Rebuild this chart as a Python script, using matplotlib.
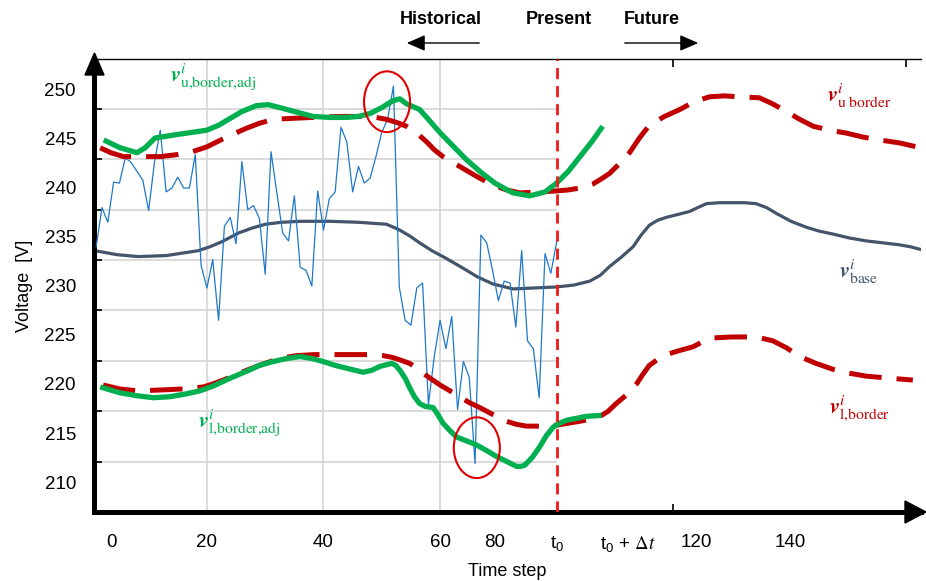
import matplotlib
matplotlib.use("Agg")
import matplotlib.pyplot as plt
from matplotlib.patches import Ellipse, Polygon, FancyArrowPatch

plt.rcParams['font.family'] = ['Liberation Sans', 'DejaVu Sans']
plt.rcParams['mathtext.fontset'] = 'stix'

# measured voltage (historical window)
t_meas = list(range(1, 81))
v_meas = [234.0, 238.0, 236.5, 240.6, 240.5, 243.1, 242.6, 241.7, 240.8, 237.7,
          242.6, 245.9, 239.6, 240.0, 241.1, 240.0, 240.0, 243.4, 232.1, 229.8,
          232.7, 226.5, 236.1, 237.0, 234.3, 242.7, 237.8, 238.2, 236.9, 231.2,
          243.7, 239.5, 235.4, 234.6, 239.2, 231.9, 231.6, 230.0, 239.7, 235.7,
          238.9, 239.6, 246.2, 244.7, 239.6, 242.2, 240.5, 241.0, 243.2, 245.7,
          247.0, 250.4, 229.9, 226.5, 226.0, 229.8, 230.3, 217.9, 222.8, 226.5,
          223.6, 226.9, 217.4, 222.3, 220.7, 211.9, 235.2, 234.4, 231.6, 228.5,
          230.5, 230.3, 225.8, 233.6, 224.4, 223.6, 218.6, 233.3, 231.3, 234.5]

# base voltage
t_base = [0.8, 4.5, 8.2, 13.0, 18.5, 20.5, 22.5, 25.4, 27.7, 30.0, 32.8, 36.0,
          41.1, 46.0, 50.8, 52.0, 53.1, 54.8, 56.5, 58.6, 60.8, 63.7, 66.5, 69.1,
          72.5, 76.2, 78.0, 80.0, 83.0, 85.7, 87.5, 89.1, 91.0, 93.1, 94.5, 95.9,
          97.3, 98.8, 100.8, 102.8, 104.2, 105.7, 108.0, 110.2, 112.2, 114.2, 116.0,
          117.7, 120.2, 122.8, 125.0, 127.4, 130.2, 133.1, 136.0, 138.8, 140.7, 142.6]
v_base = [233.6, 233.2, 233.0, 233.1, 233.6, 234.0, 234.5, 235.4, 235.9, 236.3,
          236.5, 236.6, 236.6, 236.5, 236.3, 236.0, 235.7, 235.1, 234.4, 233.6,
          232.9, 231.9, 230.9, 230.2, 229.7, 229.8, 229.85, 229.9, 230.1, 230.5,
          231.1, 232.0, 232.9, 234.0, 235.2, 236.2, 236.7, 237.0, 237.3, 237.6,
          238.0, 238.4, 238.5, 238.5, 238.5, 238.4, 238.0, 237.4, 236.6, 236.0,
          235.6, 235.3, 234.9, 234.6, 234.4, 234.2, 234.0, 233.7]

# upper border
t_ub = [1.7, 3.5, 5.7, 7.5, 9.7, 12.0, 14.8, 17.5, 20.0, 23.4, 26.8, 29.0, 31.4,
        34.5, 38.2, 43.0, 47.4, 49.0, 50.8, 52.5, 54.2, 56.0, 57.7, 59.0, 60.5,
        62.5, 64.5, 66.8, 69.1, 71.4, 73.7, 77.0, 80.0, 82.0, 84.0, 86.2, 87.6,
        89.1, 90.8, 92.5, 94.2, 95.9, 98.5, 101.1, 103.6, 106.2, 108.8, 111.4,
        114.8, 117.0, 119.4, 121.7, 124.0, 126.8, 129.7, 132.5, 135.4, 138.8,
        141.0, 143.1]
v_ub = [244.1, 243.6, 243.2, 243.2, 243.2, 243.2, 243.4, 243.7, 244.2, 245.2,
        246.1, 246.6, 247.0, 247.1, 247.2, 247.3, 247.3, 247.2, 247.0, 246.7,
        246.3, 245.6, 244.7, 243.9, 243.2, 242.5, 241.8, 241.0, 240.3, 239.8,
        239.5, 239.6, 239.7, 239.8, 240.0, 240.4, 240.9, 241.5, 242.5, 243.6,
        245.1, 246.4, 247.3, 248.0, 248.8, 249.3, 249.4, 249.3, 249.2, 248.6,
        247.8, 247.0, 246.3, 245.9, 245.6, 245.2, 244.9, 244.6, 244.3, 244.0]

# lower border
t_lb = [2.2, 5.0, 8.0, 12.5, 16.0, 19.4, 21.0, 22.8, 24.8, 26.8, 29.0, 31.4,
        33.4, 35.4, 38.5, 41.7, 45.0, 48.5, 50.2, 51.9, 53.4, 54.8, 56.0, 57.1,
        58.5, 60.0, 61.7, 63.4, 65.0, 66.8, 69.0, 71.4, 73.0, 74.8, 77.5, 80.0,
        82.0, 84.0, 85.7, 87.4, 88.8, 90.2, 92.0, 93.7, 94.8, 95.9, 97.3, 98.8,
        101.0, 103.4, 105.0, 106.8, 110.0, 113.1, 115.0, 117.1, 119.4, 121.7,
        124.5, 127.4, 130.2, 133.1, 137.0, 141.1]
v_lb = [219.9, 219.5, 219.3, 219.4, 219.5, 219.7, 220.0, 220.4, 220.9, 221.4,
        221.9, 222.4, 222.7, 222.9, 223.0, 223.0, 223.0, 223.0, 222.9, 222.7,
        222.4, 222.1, 221.6, 221.1, 220.5, 219.9, 219.3, 218.7, 218.1, 217.6,
        216.9, 216.2, 215.9, 215.7, 215.7, 215.8, 216.0, 216.2, 216.4, 216.7,
        217.2, 218.0, 218.9, 220.0, 221.0, 221.9, 222.5, 223.0, 223.4, 223.8,
        224.3, 224.7, 224.8, 224.8, 224.7, 224.4, 223.7, 222.8, 222.1, 221.5,
        221.1, 220.8, 220.6, 220.4]

# adjusted upper border
t_uadj = [2.3, 5.1, 8.0, 9.4, 11.1, 15.4, 20.0, 22.0, 24.0, 26.0, 28.5, 30.5,
          32.5, 35.0, 38.2, 41.0, 44.0, 46.0, 48.0, 50.0, 51.9, 53.1, 54.2, 56.5,
          58.0, 59.9, 61.7, 64.5, 67.0, 69.4, 70.9, 72.5, 75.4, 78.0, 80.0, 82.0,
          84.0, 86.0, 87.9]
v_uadj = [244.9, 244.1, 243.6, 244.1, 245.1, 245.5, 245.9, 246.4, 247.1, 247.8,
          248.4, 248.5, 248.2, 247.8, 247.3, 247.2, 247.2, 247.3, 247.6, 248.2,
          248.9, 249.1, 248.6, 248.0, 247.0, 245.7, 244.6, 242.9, 241.6, 240.5,
          240.0, 239.5, 239.2, 239.6, 240.5, 241.7, 243.2, 244.7, 246.3]

# adjusted lower border
t_ladj = [1.7, 3.4, 5.1, 8.0, 10.8, 13.6, 16.5, 18.8, 21.1, 24.0, 26.8, 29.0,
          31.4, 33.7, 36.0, 38.0, 39.9, 42.0, 44.0, 46.8, 48.3, 49.7, 51.7, 52.4,
          53.1, 54.0, 54.8, 55.6, 56.5, 57.5, 58.8, 59.6, 60.5, 61.6, 62.8, 64.5,
          66.2, 68.0, 69.7, 71.4, 73.1, 73.8, 74.5, 75.8, 77.1, 78.2, 79.4, 80.5,
          81.7, 83.4, 85.1, 86.4, 87.7]
v_ladj = [219.7, 219.4, 219.1, 218.8, 218.6, 218.7, 219.0, 219.3, 219.8, 220.6,
          221.3, 221.9, 222.3, 222.6, 222.8, 222.6, 222.3, 221.9, 221.6, 221.2,
          221.4, 221.8, 222.1, 221.9, 221.4, 220.6, 219.6, 218.7, 218.0, 217.7,
          217.6, 216.9, 216.0, 215.3, 214.6, 214.2, 213.8, 213.2, 212.6, 212.1,
          211.6, 211.6, 211.7, 212.5, 213.6, 214.7, 215.6, 216.0, 216.3, 216.5,
          216.7, 216.75, 216.8]

# highlighted violations (center t, center v)
circles = [(50.9, 248.8), (66.3, 213.5)]

t0 = 80
xtick_labels = ['0', '20', '40', '60', '80', r'$\mathregular{t_0}$',
                r'$\mathregular{t_0}$ + $\Delta t$', '120', '140']
xtick_pos = [3.7, 20, 40, 60, 69.4, 80, 92.2, 104, 120]
xgrid = [20, 40, 60, 80, 100, 120, 140]
ytick_labels = [210, 215, 220, 225, 230, 235, 240, 245, 250]
ygrid = [212.04, 217.24, 222.35, 227.55, 232.65, 237.76, 242.96, 248.06]

W, H = 926, 581
fig = plt.figure(figsize=(W / 100, H / 100), dpi=100)
ax = fig.add_axes([94 / W, 1 - 512 / H, (921 - 94) / W, (512 - 59) / H])
ax.set_xlim(0.63, 142.5)
ax.set_ylim(206.94, 253.16)

grid_kw = dict(color='#d4d4d4', lw=1.2, zorder=0)
for g in xgrid[:3]:
    ax.axvline(g, **grid_kw)
ax.hlines(ygrid, 0.63, t0, **grid_kw)

ax.plot(t_base, v_base, color='#44546A', lw=2.3, zorder=2)
ax.plot(t_meas, v_meas, color='#1f78c8', lw=0.9, zorder=3)
ax.plot(t_ub, v_ub, color='#C00000', lw=3.6, dashes=(6.5, 3), zorder=4, clip_on=False)
ax.plot(t_lb, v_lb, color='#C00000', lw=3.6, dashes=(6.5, 3), zorder=4)
ax.plot(t_uadj, v_uadj, color='#00B050', lw=3.8, zorder=5, solid_capstyle='butt')
ax.plot(t_ladj, v_ladj, color='#00B050', lw=3.8, zorder=5, solid_capstyle='butt')
ax.axvline(t0, color='#F01818', lw=2.0, dashes=(4, 2.5), zorder=6)

for cx, cy in circles:
    ax.add_patch(Ellipse((cx, cy), 7.9, 6.2, fill=False, ec='#E00000', lw=1.5, zorder=7))

# axes style
ax.spines['right'].set_visible(False)
ax.spines['left'].set_linewidth(3.6)
ax.spines['bottom'].set_linewidth(3.6)
ax.spines['top'].set_linewidth(1.0)
ax.set_xticks(xtick_pos)
ax.set_xticklabels(xtick_labels)
ax.set_xticks(xgrid, minor=True)
ax.set_yticks(ytick_labels)
ax.set_yticks(ygrid, minor=True)
ax.tick_params(which='major', length=0, labelsize=13.5, pad=16)
ax.tick_params(axis='y', which='major', pad=13)
ax.tick_params(which='minor', direction='in', length=6, width=1.2,
               top=True, bottom=True, left=True)

ax.set_xlabel('Time step', fontsize=13, labelpad=6)
ax.set_ylabel('Voltage  [V]', fontsize=13, labelpad=8)

# arrow heads on axes
fx = lambda px: px / W
fy = lambda py: 1 - py / H
fig.patches.append(Polygon([(fx(85), fy(75)), (fx(94.5), fy(53)), (fx(104), fy(75))],
                           closed=True, color='k', transform=fig.transFigure))
fig.patches.append(Polygon([(fx(905), fy(501)), (fx(926), fy(512)), (fx(905), fy(523))],
                           closed=True, color='k', transform=fig.transFigure))

# header
hdr = dict(fontsize=13, fontweight='bold', ha='center', va='center')
fig.text(fx(441), fy(19), 'Historical', **hdr)
fig.text(fx(559), fy(19), 'Present', **hdr)
fig.text(fx(652), fy(19), 'Future', **hdr)
arr = dict(arrowstyle='-|>,head_length=0.8,head_width=0.35', color='k', lw=1.0)
fig.add_artist(FancyArrowPatch((fx(482), fy(43)), (fx(404), fy(43)),
                               transform=fig.transFigure, mutation_scale=14, **arr))
fig.add_artist(FancyArrowPatch((fx(622), fy(43)), (fx(701), fy(43)),
                               transform=fig.transFigure, mutation_scale=14, **arr))

# curve labels
lab = dict(fontsize=16, ha='left', va='center')
ax.text(13.7, 251.4, r'$\mathbfit{v}_{\mathrm{u{,}border{,}adj}}^{\mathit{i}}$', color='#00B050', **lab)
ax.text(126.4, 249.4, r'$\mathbfit{v}_{\mathrm{u\ border}}^{\mathit{i}}$', color='#C00000', **lab)
ax.text(128.5, 231.5, r'$\mathbfit{v}_{\mathrm{base}}^{\mathit{i}}$', color='#44546A', **lab)
ax.text(126.8, 217.5, r'$\mathbfit{v}_{\mathrm{l{,}border}}^{\mathit{i}}$', color='#C00000', **lab)
ax.text(18.5, 216.1, r'$\mathbfit{v}_{\mathrm{l{,}border{,}adj}}^{\mathit{i}}$', color='#00B050', **lab)

fig.savefig('out.png', dpi=100)
